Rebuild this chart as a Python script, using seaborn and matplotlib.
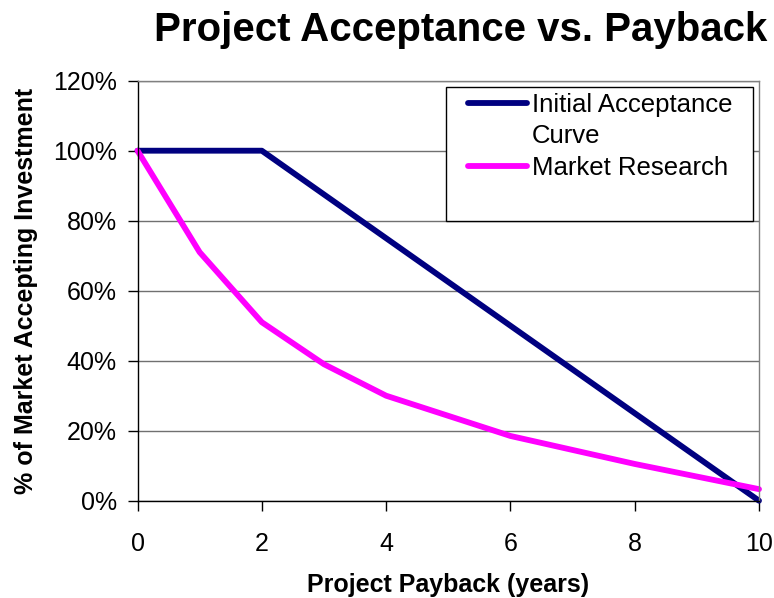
import matplotlib
matplotlib.use("Agg")
import matplotlib.pyplot as plt
import seaborn as sns
import pandas as pd
from matplotlib.lines import Line2D
from matplotlib.patches import Rectangle
from matplotlib.ticker import PercentFormatter

# ---- data ----
initial_x = [0, 2, 4, 6, 8, 10]
initial_y = [100, 100, 75, 50, 25, 0]
market_x = [0, 1, 2, 3, 4, 6, 8, 10]
market_y = [100, 71, 51, 39, 30, 18.5, 10.5, 3.3]
series_names = ["Initial Acceptance Curve", "Market Research"]
x_ticks = [0, 2, 4, 6, 8, 10]
y_ticks = [0, 20, 40, 60, 80, 100, 120]

title = "Project Acceptance vs. Payback"
x_label = "Project Payback (years)"
y_label = "% of Market Accepting Investment"

df = pd.concat([
    pd.DataFrame({"x": initial_x, "y": initial_y, "series": series_names[0]}),
    pd.DataFrame({"x": market_x, "y": market_y, "series": series_names[1]}),
], ignore_index=True)

sns.set_style("white")
plt.rcParams["font.family"] = ["Liberation Sans", "DejaVu Sans"]
plt.rcParams["text.color"] = "black"
plt.rcParams["axes.labelcolor"] = "black"
plt.rcParams["xtick.color"] = "black"
plt.rcParams["ytick.color"] = "black"

W, H = 774, 598
fig = plt.figure(figsize=(W / 100, H / 100), dpi=100)
ax = fig.add_axes([137.5 / W, (H - 500.7) / H, 621.5 / W, 420 / H])

palette = {series_names[0]: "#000080", series_names[1]: "#FF00FF"}
sns.lineplot(data=df, x="x", y="y", hue="series", palette=palette,
             sort=False, estimator=None, linewidth=4.2, legend=False, ax=ax)
for ln in ax.lines:
    ln.set_clip_on(False)
    ln.set_solid_capstyle("round")
    ln.set_solid_joinstyle("round")

ax.set_xlim(0, 10)
ax.set_ylim(0, 120)
ax.set_xticks(x_ticks)
ax.set_yticks(y_ticks)
ax.yaxis.set_major_formatter(PercentFormatter(decimals=0))
ax.set_xlabel("")
ax.set_ylabel("")

ax.grid(axis="y", color="#707070", linewidth=1.0)
ax.grid(axis="x", visible=False)
ax.set_axisbelow(True)

for s in ["left", "bottom"]:
    ax.spines[s].set_color("#000000")
    ax.spines[s].set_linewidth(1.0)
for s in ["top", "right"]:
    ax.spines[s].set_color("#808080")
    ax.spines[s].set_linewidth(1.0)
    ax.spines[s].set_visible(True)

ax.tick_params(axis="y", direction="out", length=7, width=1, color="#000000",
               pad=8, labelsize=18, left=True, labelcolor="black")
ax.tick_params(axis="x", direction="out", length=7, width=1, color="#000000",
               pad=15.5, labelsize=18, bottom=True, labelcolor="black")

# legend
leg_fs = 18.5
leg = ax.legend(handles=[Line2D([], [], color="#000080", lw=4.2, solid_capstyle="round"),
                         Line2D([], [], color="none"),
                         Line2D([], [], color="#FF00FF", lw=4.2, solid_capstyle="round")],
                labels=["Initial Acceptance", "Curve", "Market Research"],
                loc="upper left",
                bbox_to_anchor=((468 - 137.5) / 621.5, (500.7 - 92.5) / 420),
                frameon=False, fontsize=leg_fs, handlelength=2.3, handletextpad=0.2,
                labelspacing=0.3, borderpad=0, borderaxespad=0)
for t in leg.get_texts():
    t.set_color("black")

rect = Rectangle(((446 - 137.5) / 621.5, (500.7 - 220.5) / 420),
                 (752.5 - 446) / 621.5, (220.5 - 86.7) / 420,
                 transform=ax.transAxes, facecolor="white", edgecolor="#000000",
                 linewidth=1.0, zorder=4)
ax.add_patch(rect)
leg.set_zorder(5)

fig.text(461 / W, 1 - 41 / H, title, ha="center", va="baseline",
         fontsize=29, fontweight="bold", color="black")
fig.text(448 / W, 1 - 592 / H, x_label, ha="center", va="baseline",
         fontsize=18, fontweight="bold", color="black")
fig.text(33 / W, 1 - 290.7 / H, y_label, ha="center", va="baseline",
         rotation=90, rotation_mode="anchor", fontsize=18, fontweight="bold",
         color="black")

fig.savefig("out.png", dpi=100)
